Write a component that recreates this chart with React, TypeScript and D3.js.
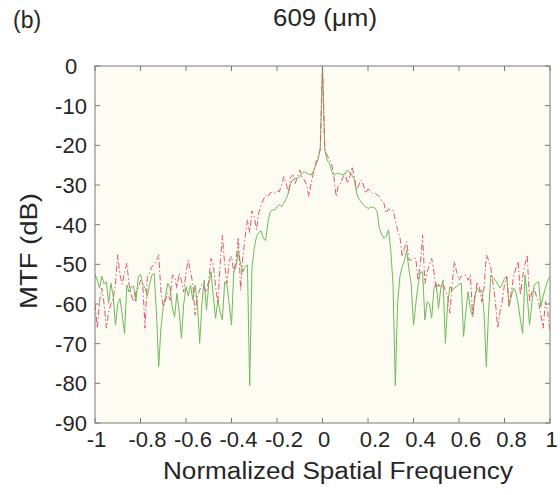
import React from "react";
import * as d3 from "d3";

// normalized spatial frequency grid, -1 .. 1 step 0.01
const freq = d3.range(201).map((i) => Math.round((-1 + i * 0.01) * 100) / 100);

// solid green curve (dB)
const mtfSolid = [
  -52.5, -54, -56, -53, -55, -54.4, -59.8, -54.8, -58, -65.3,
  -60, -58.6, -63, -67.4, -55.2, -57, -55.6, -55.6, -59.4, -53.1,
  -52.5, -55, -56, -58.1, -55, -52.7, -52.3, -62, -75.8, -66,
  -60.7, -58, -54.8, -56, -61, -63.2, -57.3, -62, -68.6, -60,
  -55.6, -58, -55.2, -59, -55.2, -60, -69.9, -60, -54, -61.5,
  -55, -51.9, -58, -63.6, -59, -62, -64, -54.4, -55.2, -60,
  -65.3, -52, -50.6, -46.4, -50, -51.9, -50.5, -50.2, -80.6, -51,
  -46, -43, -42, -41.5, -43.5, -44, -39.5, -36.7, -36.3, -36.3,
  -35.5, -35, -35.5, -34.6, -33.5, -32.1, -29.6, -28.7, -28.3, -28.3,
  -27.9, -27, -26.6, -27, -27.3, -27.5, -26.5, -25, -23.7, -21,
  0,
  -21, -23.7, -24.5, -26.5, -27.5, -27.2, -27, -27.3, -27.5, -27,
  -26.2, -27, -27.5, -28.7, -32.1, -33.5, -34.3, -35, -35.5, -35.9,
  -35.7, -35.5, -35.8, -36.7, -40.9, -42.5, -43.4, -43, -41.3, -46.4,
  -55, -80.6, -60, -53.1, -50.6, -49, -46.4, -51.4, -55, -65.3,
  -60, -55.2, -52, -51.9, -64, -59.4, -60, -63.6, -56, -54.8,
  -61.1, -56, -54, -69.9, -60, -55.6, -56.5, -56, -55.6, -55,
  -54.8, -68.2, -62, -56.9, -61.1, -63.2, -58, -56, -57, -56.5,
  -62, -75.8, -62, -52.7, -53.5, -54, -55, -56, -55, -53.5,
  -53.1, -60.7, -58, -56, -57, -60, -64, -67.4, -52.7, -58,
  -65.3, -60, -55.2, -54.8, -54.4, -60.7, -58, -56, -54, -53.1,
];

// red dash-dot curve (dB)
const mtfDashed = [
  -60, -66.1, -59.4, -56, -60, -66.1, -62, -60, -58.6, -55,
  -47.6, -52.7, -55, -52, -49.7, -55.2, -58, -59.4, -57, -56,
  -54, -55.2, -66.1, -53.5, -52, -50.6, -50.2, -49, -47.6, -56.9,
  -60.7, -59, -57.3, -59, -52.7, -53.1, -56, -52.3, -54, -57,
  -52, -48.9, -52, -54.8, -62.8, -58, -56.5, -55, -56, -57,
  -54, -48.5, -50, -55.6, -59.8, -50, -42.6, -50, -54.8, -49,
  -48, -52, -49, -43.2, -56.5, -48, -43, -38.8, -42, -36.5,
  -38, -41.3, -37, -35, -33.8, -32.5, -33, -32, -31.7, -32,
  -31.5, -31.7, -30, -27.9, -29.6, -32.1, -28, -27.5, -29.6, -28,
  -26.2, -28, -28.7, -30, -32.9, -29.6, -27, -24.5, -23, -21,
  0,
  -21, -22.5, -23.5, -24.5, -27.9, -32.9, -30, -29.6, -28, -27,
  -29.6, -28, -25.4, -28, -31.3, -30, -28.7, -30, -32.1, -31,
  -31.5, -32.1, -32, -32.5, -32.9, -34, -34.6, -37.1, -36, -36.5,
  -36.3, -38.8, -41.3, -43, -48, -46, -44.3, -48.9, -48.9, -48.5,
  -48.5, -54, -50, -42.6, -54.8, -52, -50, -48.5, -52, -56.5,
  -55, -56, -55, -56.5, -58, -62.3, -55, -49.3, -52, -54,
  -53, -52.7, -52.7, -54, -52.7, -62.8, -58, -54.4, -56, -59.4,
  -56, -47.6, -49, -51, -55, -59.4, -66.1, -62, -59.4, -55,
  -53.1, -60.2, -57, -53, -51, -49.3, -57.7, -53, -50, -47.6,
  -59.4, -57, -56, -58, -59.4, -63, -66.1, -59.4, -62, -67,
];

const xTicks = [-1, -0.8, -0.6, -0.4, -0.2, 0, 0.2, 0.4, 0.6, 0.8, 1];
const yTicks = [0, -10, -20, -30, -40, -50, -60, -70, -80, -90];

const W = 560;
const H = 495;
const margin = { top: 66, right: 10, bottom: 72, left: 95 };
const FONT = "'Liberation Sans', Arial, Helvetica, sans-serif";
const TXT = "#262626";
const AXIS = "#7a7a7a";

export default function App() {
  const x = d3
    .scaleLinear()
    .domain([-1, 1])
    .range([margin.left, W - margin.right]);
  const y = d3
    .scaleLinear()
    .domain([-90, 0])
    .range([H - margin.bottom, margin.top]);

  const line = d3
    .line<number>()
    .x((_, i) => x(freq[i]))
    .y((d) => y(d));

  const x0 = x(-1);
  const x1 = x(1);
  const y0 = y(-90);
  const y1 = y(0);
  const tk = 5;

  return (
    <svg
      width={W}
      height={H}
      style={{ position: "absolute", left: 0, top: 0, background: "#fff" }}
      fontFamily={FONT}
    >
      <defs>
        <clipPath id="plot">
          <rect x={x0} y={y1 - 1} width={x1 - x0} height={y0 - y1 + 1} />
        </clipPath>
      </defs>

      {/* axes background */}
      <rect x={x0} y={y1} width={x1 - x0} height={y0 - y1} fill="#fcfcf3" />

      {/* curves */}
      <g clipPath="url(#plot)" fill="none">
        <path d={line(mtfSolid) ?? ""} stroke="#72b95b" strokeWidth={1} />
        <path
          d={line(mtfDashed) ?? ""}
          stroke="#e2586a"
          strokeWidth={1}
          strokeDasharray="6,2.5,1.5,2.5"
        />
      </g>

      {/* frame + ticks */}
      <g stroke={AXIS} strokeWidth={1} fill="none">
        <rect x={x0} y={y1} width={x1 - x0} height={y0 - y1} />
        {xTicks.map((t) => (
          <g key={"xt" + t}>
            <line x1={x(t)} x2={x(t)} y1={y0} y2={y0 - tk} />
            <line x1={x(t)} x2={x(t)} y1={y1} y2={y1 + tk} />
          </g>
        ))}
        {yTicks.map((t) => (
          <g key={"yt" + t}>
            <line x1={x0} x2={x0 + tk} y1={y(t)} y2={y(t)} />
            <line x1={x1} x2={x1 - tk} y1={y(t)} y2={y(t)} />
          </g>
        ))}
      </g>

      {/* tick labels */}
      <g fill={TXT} fontSize={22}>
        {xTicks.map((t) => (
          <text
            key={"xl" + t}
            x={x(t) + (Number.isInteger(t) ? 1.5 : 7)}
            y={y0 + 24}
            textAnchor="middle"
          >
            {String(t)}
          </text>
        ))}
        {yTicks.map((t) => (
          <text
            key={"yl" + t}
            x={71}
            y={y(t) + 8}
            textAnchor="middle"
          >
            {String(t)}
          </text>
        ))}
      </g>

      {/* labels */}
      <text
        x={338}
        y={y0 + 56}
        textAnchor="middle"
        fontSize={23}
        fill={TXT}
        textLength={350}
        lengthAdjust="spacingAndGlyphs"
      >
        Normalized Spatial Frequency
      </text>
      <text
        transform={`translate(37,251) rotate(-90)`}
        textAnchor="middle"
        fontSize={24}
        fill={TXT}
        textLength={116}
        lengthAdjust="spacingAndGlyphs"
      >
        MTF (dB)
      </text>
      <text
        x={325}
        y={26}
        textAnchor="middle"
        fontSize={23}
        fill={TXT}
        textLength={104}
        lengthAdjust="spacingAndGlyphs"
      >
        609 (μm)
      </text>
      <text x={13} y={28} fontSize={23} fill={TXT}>
        (b)
      </text>
    </svg>
  );
}
